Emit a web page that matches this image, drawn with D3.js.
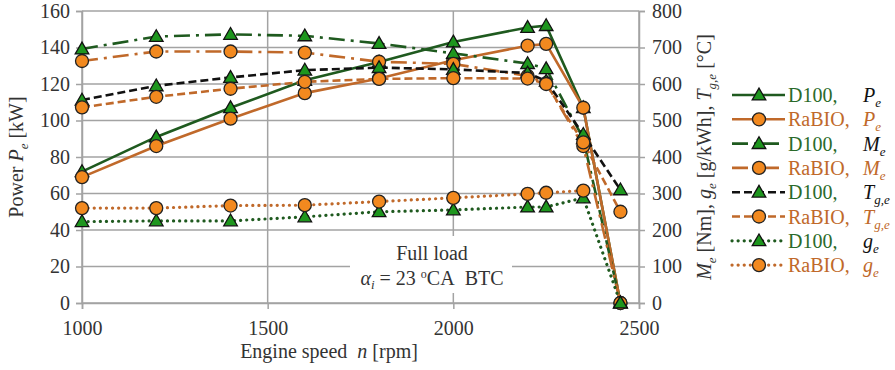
<!DOCTYPE html>
<html>
<head>
<meta charset="utf-8">
<script src="https://cdn.jsdelivr.net/npm/d3@7"></script>
<style>
  body { margin: 0; background: #fff; }
  svg text { font-family: "Liberation Serif", "Times New Roman", Tinos, "DejaVu Serif", serif; }
</style>
</head>
<body>
<script>
// engine speed points (rpm)
var speed = [1000, 1200, 1400, 1600, 1800, 2000, 2200, 2250, 2350, 2450];

// power [kW], left axis
var peD100 = [72, 91, 107, 122, 132, 143, 151, 152, 107, 0];
var peRaBIO = [69, 86, 101, 115, 123, 133, 141, 142, 107, 0];
// torque [Nm], right axis
var meD100 = [696, 730, 736, 732, 711, 684, 656, 642, 450, 0];
var meRaBIO = [663, 689, 689, 686, 661, 655, 622, 602, 430, 0];
// exhaust temperature [C], right axis
var tgD100 = [556, 595, 618, 638, 645, 640, 630, 608, 462, 310];
var tgRaBIO = [536, 565, 587, 606, 614, 616, 615, 600, 440, 250];
// specific fuel consumption [g/kWh], right axis
var geD100 = [223, 225, 225, 236, 250, 255, 263, 263, 288, 0];
var geRaBIO = [260, 260, 267, 268, 278, 288, 299, 302, 308, null];

// tick values
var xTicks = [1000, 1500, 2000, 2500];
var leftTicks = [0, 20, 40, 60, 80, 100, 120, 140, 160];
var rightTicks = [0, 100, 200, 300, 400, 500, 600, 700, 800];

var serif = "'Liberation Serif', 'Times New Roman', Tinos, 'DejaVu Serif', serif";
var green = "#1f5a1f";
var greenFill = "#1e961e";
var brown = "#c0692a";
var orangeFill = "#f2891f";
var grid = "#a3a3a3";

var w = 895;
var h = 370;
var margin = {top: 11, right: 256, bottom: 67, left: 82}

var svg = d3.select("body")
            .append("svg")
            .attr("width", w)
            .attr("height", h)
            .attr("font-family", serif);

var xScale = d3.scaleLinear()
  .domain([1000, 2500])
  .range([margin.left, w - margin.right]);

var yLeft = d3.scaleLinear()
  .domain([0, 160])
  .range([h - margin.bottom, margin.top]);

var yRight = d3.scaleLinear()
  .domain([0, 800])
  .range([h - margin.bottom, margin.top]);

// gridlines
svg.append("g")
  .selectAll("line")
  .data(leftTicks)
  .enter()
  .append("line")
  .attr("x1", xScale(1000))
  .attr("x2", xScale(2500))
  .attr("y1", function(d) { return yLeft(d); })
  .attr("y2", function(d) { return yLeft(d); })
  .attr("stroke", grid)
  .attr("stroke-width", 1.5);

svg.append("g")
  .selectAll("line")
  .data(xTicks)
  .enter()
  .append("line")
  .attr("x1", function(d) { return xScale(d); })
  .attr("x2", function(d) { return xScale(d); })
  .attr("y1", yLeft(0))
  .attr("y2", yLeft(160))
  .attr("stroke", grid)
  .attr("stroke-width", 1.5);

// axes
var xAxis = svg.append("g")
  .attr("transform", "translate(0," + yLeft(0) + ")")
  .call(d3.axisBottom(xScale).tickValues(xTicks).tickFormat(d3.format("d")).tickSize(6).tickPadding(12));

var lAxis = svg.append("g")
  .attr("transform", "translate(" + xScale(1000) + ",0)")
  .call(d3.axisLeft(yLeft).tickValues(leftTicks).tickSize(6).tickPadding(6));

var rAxis = svg.append("g")
  .attr("transform", "translate(" + xScale(2500) + ",0)")
  .call(d3.axisRight(yRight).tickValues(rightTicks).tickSize(6).tickPadding(7));

[xAxis, lAxis, rAxis].forEach(function(a) {
  a.attr("font-family", serif).attr("font-size", 20);
  a.select(".domain").attr("stroke", grid).attr("stroke-width", 1.5);
  a.selectAll(".tick line").attr("stroke", grid).attr("stroke-width", 1.5);
  a.selectAll("text").attr("fill", "#333");
});

// annotation box, hides the grid behind it
svg.append("rect")
  .attr("x", 350)
  .attr("y", 236)
  .attr("width", 162)
  .attr("height", 57)
  .attr("fill", "#fff");

svg.append("text")
  .attr("x", 432)
  .attr("y", 260)
  .attr("text-anchor", "middle")
  .attr("fill", "#333")
  .style("font-size", "20px")
  .text("Full load");

var ann = svg.append("text")
  .attr("x", 432)
  .attr("y", 285)
  .attr("text-anchor", "middle")
  .attr("fill", "#333")
  .style("font-size", "20px");
ann.append("tspan").style("font-style", "italic").text("α");
ann.append("tspan").style("font-style", "italic").style("font-size", "13px").attr("dy", 4).text("i");
ann.append("tspan").attr("dy", -4).text(" = 23 ");
ann.append("tspan").style("font-size", "12px").attr("dy", -7).text("o");
ann.append("tspan").attr("dy", 7).text("CA\u00a0\u00a0BTC");

// series definitions
var series = [
  {name: "D100,", sym: "P", sub: "e", vals: peD100, y: yLeft, color: green, dash: null, mark: "tri"},
  {name: "RaBIO,", sym: "P", sub: "e", vals: peRaBIO, y: yLeft, color: brown, dash: null, mark: "circ"},
  {name: "D100,", sym: "M", sub: "e", vals: meD100, y: yRight, color: green, dash: "16,6,3,6", mark: "tri"},
  {name: "RaBIO,", sym: "M", sub: "e", vals: meRaBIO, y: yRight, color: brown, dash: "16,6,3,6", mark: "circ"},
  {name: "D100,", sym: "T", sub: "g,e", vals: tgD100, y: yRight, color: "#111", dash: "8,4", mark: "tri"},
  {name: "RaBIO,", sym: "T", sub: "g,e", vals: tgRaBIO, y: yRight, color: brown, dash: "8,4", mark: "circ"},
  {name: "D100,", sym: "g", sub: "e", vals: geD100, y: yRight, color: green, dash: "0.1,6", mark: "tri"},
  {name: "RaBIO,", sym: "g", sub: "e", vals: geRaBIO, y: yRight, color: brown, dash: "0.1,6", mark: "circ"}
];

var triangle = d3.symbol().type(d3.symbolTriangle).size(80);

function drawMarker(g, kind) {
  if (kind == "tri") {
    g.append("path")
      .attr("d", triangle)
      .attr("transform", "translate(0,1)")
      .attr("fill", greenFill)
      .attr("stroke", "#111")
      .attr("stroke-width", 1.3);
  } else {
    g.append("circle")
      .attr("r", 6.5)
      .attr("fill", orangeFill)
      .attr("stroke", "#222")
      .attr("stroke-width", 1.3);
  }
}

// lines
series.forEach(function(s) {
  var pts = speed.map(function(x, i) { return [x, s.vals[i]]; });
  var line = d3.line()
    .defined(function(d) { return d[1] !== null; })
    .x(function(d) { return xScale(d[0]); })
    .y(function(d) { return s.y(d[1]); });

  svg.append("path")
    .datum(pts)
    .attr("d", line)
    .attr("fill", "none")
    .attr("stroke", s.color)
    .attr("stroke-width", s.dash == "0.1,6" ? 3.2 : 2.6)
    .attr("stroke-linecap", s.dash == "0.1,6" ? "round" : "butt")
    .attr("stroke-dasharray", s.dash);
  s.pts = pts.filter(function(d) { return d[1] !== null; });
});

// markers on top
series.forEach(function(s) {
  s.pts.forEach(function(d) {
    var g = svg.append("g")
      .attr("transform", "translate(" + xScale(d[0]) + "," + s.y(d[1]) + ")");
    drawMarker(g, s.mark);
  });
});

// legend
var legend = svg.append("g");
series.forEach(function(s, i) {
  var ly = 95 + i * 24.3;
  legend.append("line")
    .attr("x1", 732)
    .attr("x2", 785)
    .attr("y1", ly)
    .attr("y2", ly)
    .attr("stroke", s.color)
    .attr("stroke-width", s.dash == "0.1,6" ? 3.2 : 2.6)
    .attr("stroke-linecap", s.dash == "0.1,6" ? "round" : "butt")
    .attr("stroke-dasharray", s.dash);
  var g = legend.append("g").attr("transform", "translate(759," + ly + ")");
  drawMarker(g, s.mark);

  legend.append("text")
    .attr("x", 788)
    .attr("y", ly + 7)
    .attr("fill", s.mark == "tri" ? "#2a6a2a" : brown)
    .style("font-size", "20px")
    .text(s.name);

  var t = legend.append("text")
    .attr("x", 863)
    .attr("y", ly + 7)
    .attr("fill", s.mark == "tri" ? "#111" : brown)
    .style("font-size", "20px")
    .style("font-style", "italic");
  t.append("tspan").text(s.sym);
  t.append("tspan").attr("dy", 5).style("font-size", "13px").text(s.sub);
});

// axis titles
var lt = svg.append("text")
  .attr("transform", "translate(23,157) rotate(-90)")
  .attr("text-anchor", "middle")
  .attr("fill", "#333")
  .style("font-size", "20px");
lt.append("tspan").text("Power ");
lt.append("tspan").style("font-style", "italic").text("P");
lt.append("tspan").style("font-style", "italic").style("font-size", "13px").attr("dy", 5).text("e");
lt.append("tspan").attr("dy", -5).text(" [kW]");

var bt = svg.append("text")
  .attr("x", 329)
  .attr("y", 358)
  .attr("text-anchor", "middle")
  .attr("fill", "#333")
  .style("font-size", "20px");
bt.append("tspan").text("Engine speed\u00a0\u00a0");
bt.append("tspan").style("font-style", "italic").text("n");
bt.append("tspan").text(" [rpm]");

var rt = svg.append("text")
  .attr("transform", "translate(711,157) rotate(-90)")
  .attr("text-anchor", "middle")
  .attr("fill", "#333")
  .style("font-size", "20px");
rt.append("tspan").style("font-style", "italic").text("M");
rt.append("tspan").style("font-style", "italic").style("font-size", "13px").attr("dy", 5).text("e");
rt.append("tspan").attr("dy", -5).text(" [Nm], ");
rt.append("tspan").style("font-style", "italic").text("g");
rt.append("tspan").style("font-style", "italic").style("font-size", "13px").attr("dy", 5).text("e");
rt.append("tspan").attr("dy", -5).text(" [g/kWh], ");
rt.append("tspan").style("font-style", "italic").text("T");
rt.append("tspan").style("font-style", "italic").style("font-size", "13px").attr("dy", 5).text("g,e");
rt.append("tspan").attr("dy", -5).text(" [°C]");
</script>
</body>
</html>
